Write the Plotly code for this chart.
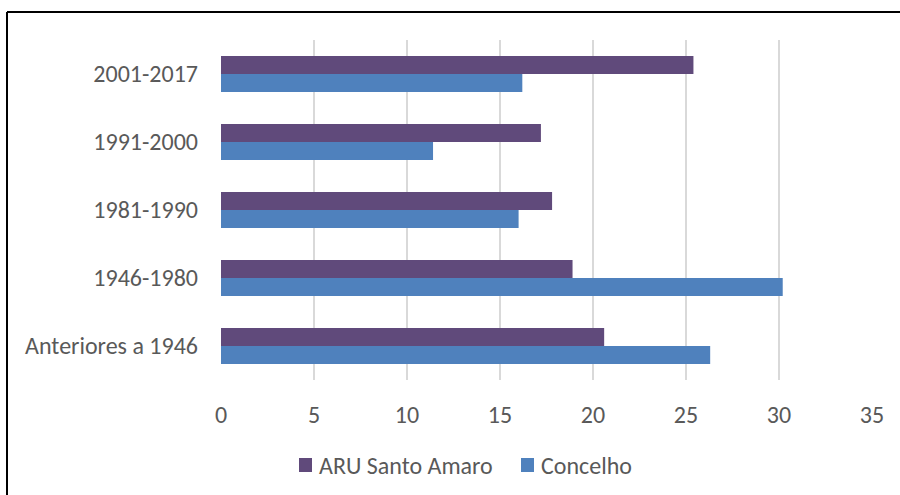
import plotly.graph_objects as go

# Building age bands, listed bottom to top
periods = ["Anteriores a 1946", "1946-1980", "1981-1990", "1991-2000", "2001-2017"]
aru_santo_amaro = [20.6, 18.9, 17.8, 17.2, 25.4]
concelho = [26.3, 30.2, 16.0, 11.4, 16.2]
x_ticks = [0, 5, 10, 15, 20, 25, 30, 35]

series_names = ["ARU Santo Amaro", "Concelho"]
series_colors = ["#604A7B", "#4F81BD"]

W, H = 900, 495
L, R, T, B = 221, 28, 40, 115
pw, ph = W - L - R, H - T - B

def px_x(p):
    return (p - L) / pw

def px_y(p):
    return (H - B - p) / ph

font_family = "Calibri, Carlito, Lato, sans-serif"
text_color = "#595959"
fsize = 24

fig = go.Figure()
fig.add_trace(go.Bar(
    y=periods, x=concelho, name=series_names[1], orientation="h",
    marker=dict(color=series_colors[1], line=dict(width=0)), showlegend=False,
))
fig.add_trace(go.Bar(
    y=periods, x=aru_santo_amaro, name=series_names[0], orientation="h",
    marker=dict(color=series_colors[0], line=dict(width=0)), showlegend=False,
))

# Outer frame (left and top edges)
frame = dict(type="line", xref="paper", yref="paper",
             line=dict(color="#000000", width=2), layer="above")
fig.add_shape(**frame, x0=px_x(7), x1=px_x(7), y0=px_y(12), y1=px_y(500))
fig.add_shape(**frame, x0=px_x(7), x1=px_x(905), y0=px_y(12), y1=px_y(12))

# Legend below the axis: colour key squares with labels
legend_left = [299, 521]
legend_yc = 465
for name, color, x0 in zip(series_names, series_colors, legend_left):
    fig.add_shape(type="rect", xref="paper", yref="paper",
                  x0=px_x(x0), x1=px_x(x0 + 13),
                  y0=px_y(legend_yc + 7), y1=px_y(legend_yc - 7),
                  fillcolor=color, line=dict(width=0))
    fig.add_annotation(xref="paper", yref="paper", x=px_x(x0 + 18),
                       y=px_y(legend_yc), xanchor="left", yanchor="middle",
                       text=name, showarrow=False,
                       font=dict(size=fsize, color=text_color))

fig.update_layout(
    width=W, height=H,
    margin=dict(l=L, r=R, t=T, b=B),
    paper_bgcolor="white", plot_bgcolor="white",
    barmode="group", bargap=0.474, bargroupgap=0,
    font=dict(family=font_family, size=fsize, color=text_color),
    showlegend=False,
    xaxis=dict(
        range=[0, 35], tickvals=x_ticks, showgrid=True,
        gridcolor="#D9D9D9", gridwidth=1.5, zeroline=False,
        showline=False, ticks="", ticklabelstandoff=18,
        tickfont=dict(size=fsize, color=text_color), fixedrange=True,
    ),
    yaxis=dict(
        type="category", categoryorder="array", categoryarray=periods,
        showgrid=False, zeroline=False, showline=False, ticks="",
        ticklabelstandoff=22, tickfont=dict(size=fsize, color=text_color),
    ),
)

fig.write_html("out.html")
